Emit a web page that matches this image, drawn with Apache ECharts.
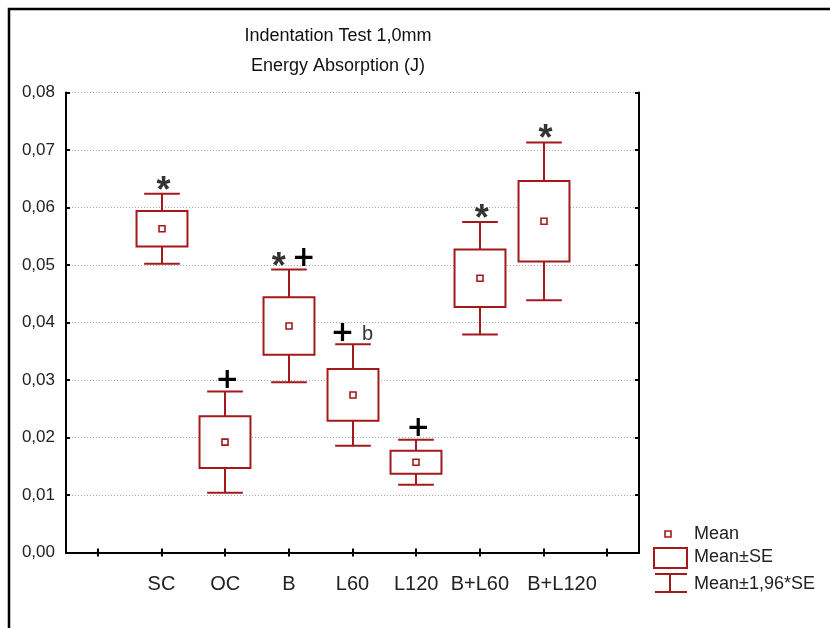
<!DOCTYPE html>
<html>
<head>
<meta charset="utf-8">
<script src="https://cdn.jsdelivr.net/npm/echarts@6/dist/echarts.min.js"></script>
<style>
  html, body { margin: 0; padding: 0; background: #fff; }
  #chart { width: 830px; height: 628px; }
</style>
</head>
<body>
<div id="chart"></div>
<script>
var categories = ['', 'SC', 'OC', 'B', 'L60', 'L120', 'B+L60', 'B+L120', '']; // x axis slots
var groups = ['SC', 'OC', 'B', 'L60', 'L120', 'B+L60', 'B+L120'];
var means = [0.0563, 0.0192, 0.0394, 0.0274, 0.0157, 0.0477, 0.0576];
var se = [0.0031, 0.0045, 0.0050, 0.0045, 0.0020, 0.0050, 0.0070];
var marks = [['*'], ['+'], ['*', '+'], ['+', 'b'], ['+'], ['*'], ['*']]; // signs above whiskers
var legendNames = ['Mean', 'Mean±SE', 'Mean±1,96*SE'];

var RED = '#a3191c';
var FONT = 'Liberation Sans';

var boxData = groups.map(function(g, i) {
    var m = means[i], s = se[i];
    return [g, m - 1.96 * s, m - s, m, m + s, m + 1.96 * s];
});
var markData = groups.map(function(g, i) {
    return [g, means[i] + 1.96 * se[i]];
});

// 画一个箱子：均值点 + 均值±SE + 均值±1.96SE
function renderBox(params, api) {
    var x = api.value(0);
    var lo2 = api.coord([x, api.value(1)]);
    var lo1 = api.coord([x, api.value(2)]);
    var mid = api.coord([x, api.value(3)]);
    var hi1 = api.coord([x, api.value(4)]);
    var hi2 = api.coord([x, api.value(5)]);
    var band = api.size([1, 0])[0];
    var bw = band * 0.8, cw = band * 0.56;
    var cx = Math.round(mid[0]);
    var st = { stroke: RED, lineWidth: 2, fill: null };
    return {
        type: 'group',
        children: [
            { type: 'line', shape: { x1: cx, y1: hi2[1], x2: cx, y2: hi1[1] }, style: st },
            { type: 'line', shape: { x1: cx, y1: lo1[1], x2: cx, y2: lo2[1] }, style: st },
            { type: 'line', shape: { x1: cx - cw / 2, y1: hi2[1], x2: cx + cw / 2, y2: hi2[1] }, style: st },
            { type: 'line', shape: { x1: cx - cw / 2, y1: lo2[1], x2: cx + cw / 2, y2: lo2[1] }, style: st },
            { type: 'rect', shape: { x: cx - bw / 2, y: hi1[1], width: bw, height: lo1[1] - hi1[1] },
              style: { stroke: RED, lineWidth: 2, fill: '#fff' } },
            { type: 'rect', shape: { x: cx - 3, y: mid[1] - 3, width: 6, height: 6 },
              style: { stroke: RED, lineWidth: 1.6, fill: '#fff' } }
        ]
    };
}

// 显著性标记
function renderMarks(params, api) {
    var p = api.coord([api.value(0), api.value(1)]);
    var list = marks[params.dataIndex];
    var offs = list.length == 1 ? [2] : [-10, 15];
    var children = [];
    for (var i = 0; i < list.length; i++) {
        var s = list[i];
        var st;
        if (s == '+') {
            st = { text: '+', fontFamily: 'DejaVu Sans', fontWeight: 'bold', fontSize: 28, fill: '#000', y: p[1] - 11 };
        } else if (s == '*') {
            st = { text: '*', fontFamily: FONT, fontWeight: 'bold', fontSize: 36, fill: '#333', y: p[1] - 2 };
        } else {
            st = { text: s, fontFamily: FONT, fontSize: 20, fill: '#333', y: p[1] - 10 };
        }
        st.x = p[0] + offs[i];
        st.align = 'center';
        st.verticalAlign = 'middle';
        children.push({ type: 'text', style: st });
    }
    return { type: 'group', children: children };
}

var myChart = echarts.init(document.getElementById('chart'));

var axisLine = { show: true, lineStyle: { color: '#000', width: 2 } };
var tick = { show: true, inside: true, length: 4, lineStyle: { color: '#000', width: 2 } };

var option = {
    animation: false,
    backgroundColor: '#fff',
    title: {
        text: 'Indentation Test 1,0mm\nEnergy Absorption (J)',
        left: 333,
        top: 16,
        textAlign: 'center',
        textStyle: { fontFamily: FONT, fontSize: 18, fontWeight: 'normal', color: '#111', lineHeight: 30 }
    },
    grid: { left: 66, right: 191, top: 92.5, bottom: 75.5 },
    xAxis: [{
        type: 'category',
        data: categories,
        boundaryGap: true,
        axisLine: axisLine,
        axisTick: { show: true, inside: true, length: 4, alignWithLabel: true, interval: 0, lineStyle: { color: '#000', width: 2 } },
        axisLabel: {
            interval: 0, margin: 22, fontFamily: FONT, fontSize: 20, color: '#222',
            // 最后一个标签在原图中右移
            formatter: function(v) { return v == 'B+L120' ? '{shift|' + v + '}' : v; },
            rich: { shift: { fontFamily: FONT, fontSize: 20, color: '#222', padding: [0, 0, 0, 37] } }
        },
        splitLine: { show: false }
    }, {
        type: 'category',
        position: 'top',
        data: categories,
        boundaryGap: true,
        axisLine: axisLine,
        axisTick: { show: true, inside: true, length: 4, alignWithLabel: true, interval: 0, lineStyle: { color: '#000', width: 2 } },
        axisLabel: { show: false },
        splitLine: { show: false }
    }],
    yAxis: [{
        type: 'value',
        min: 0,
        max: 0.08,
        interval: 0.01,
        axisLine: axisLine,
        axisTick: tick,
        axisLabel: {
            margin: 11,
            fontFamily: FONT,
            fontSize: 17,
            color: '#222',
            formatter: function(v) { return v.toFixed(2).replace('.', ','); }
        },
        splitLine: { show: true, lineStyle: { color: '#aaa', width: 1, type: [1, 2] } }
    }, {
        type: 'value',
        position: 'right',
        min: 0,
        max: 0.08,
        interval: 0.01,
        axisLine: axisLine,
        axisTick: tick,
        axisLabel: { show: false },
        splitLine: { show: false }
    }],
    series: [{
        type: 'custom',
        name: 'box',
        renderItem: renderBox,
        encode: { x: 0, y: [1, 2, 3, 4, 5] },
        data: boxData,
        z: 5
    }, {
        type: 'custom',
        name: 'marks',
        renderItem: renderMarks,
        encode: { x: 0, y: 1 },
        data: markData,
        z: 6
    }],
    graphic: [
        // 外框
        { type: 'polyline', shape: { points: [[9, 628], [9, 9], [830, 9]] }, style: { stroke: '#000', lineWidth: 2.5, fill: null } },
        // 图例
        { type: 'rect', shape: { x: 665, y: 531, width: 6, height: 6 }, style: { stroke: RED, lineWidth: 1.6, fill: '#fff' } },
        { type: 'rect', shape: { x: 654, y: 548, width: 33, height: 20 }, style: { stroke: RED, lineWidth: 2, fill: '#fff' } },
        { type: 'line', shape: { x1: 655, y1: 574, x2: 687, y2: 574 }, style: { stroke: RED, lineWidth: 2 } },
        { type: 'line', shape: { x1: 655, y1: 592, x2: 687, y2: 592 }, style: { stroke: RED, lineWidth: 2 } },
        { type: 'line', shape: { x1: 670, y1: 574, x2: 670, y2: 592 }, style: { stroke: RED, lineWidth: 2 } },
        { type: 'text', style: { text: legendNames[0], x: 694, y: 534, verticalAlign: 'middle', fontFamily: FONT, fontSize: 18, fill: '#222' } },
        { type: 'text', style: { text: legendNames[1], x: 694, y: 557, verticalAlign: 'middle', fontFamily: FONT, fontSize: 18, fill: '#222' } },
        { type: 'text', style: { text: legendNames[2], x: 694, y: 584, verticalAlign: 'middle', fontFamily: FONT, fontSize: 18, fill: '#222' } }
    ]
};
myChart.setOption(option, true);
</script>
</body>
</html>
